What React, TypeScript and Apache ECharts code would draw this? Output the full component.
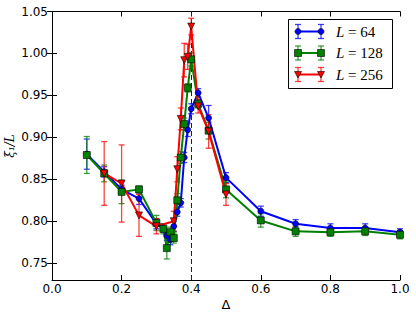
import React, { useEffect, useRef } from 'react';
import * as echarts from 'echarts';

const deltaAll = [0.1, 0.15, 0.2, 0.25, 0.3, 0.32, 0.33, 0.34, 0.35, 0.36, 0.37, 0.38, 0.39, 0.4, 0.42, 0.45, 0.5, 0.6, 0.7, 0.8, 0.9, 1.0];
const xi64 = [0.880, 0.859, 0.838, 0.827, 0.797, 0.792, 0.783, 0.778, 0.794, 0.811, 0.822, 0.876, 0.909, 0.934, 0.953, 0.923, 0.852, 0.812, 0.797, 0.792, 0.792, 0.787];
const err64 = [0.018, 0.006, 0.005, 0.007, 0.006, 0.005, 0.006, 0.006, 0.006, 0.005, 0.005, 0.006, 0.008, 0.006, 0.005, 0.015, 0.006, 0.006, 0.005, 0.005, 0.005, 0.004];
const xi128 = [0.879, 0.857, 0.835, 0.838, 0.798, 0.791, 0.768, 0.787, 0.780, 0.825, 0.876, 0.916, 0.959, 0.993, 0.940, 0.908, 0.838, 0.801, 0.788, 0.787, 0.788, 0.784];
const err128 = [0.022, 0.010, 0.014, 0.004, 0.009, 0.006, 0.013, 0.006, 0.006, 0.008, 0.007, 0.007, 0.005, 0.008, 0.005, 0.010, 0.010, 0.008, 0.006, 0.005, 0.005, 0.005];
const delta256 = [0.15, 0.2, 0.25, 0.3, 0.35, 0.36, 0.37, 0.38, 0.39, 0.4, 0.42, 0.45, 0.5];
const xi256 = [0.857, 0.845, 0.807, 0.794, 0.800, 0.862, 0.922, 0.992, 0.996, 1.032, 0.937, 0.907, 0.832];
const err256 = [0.038, 0.046, 0.025, 0.009, 0.012, 0.015, 0.013, 0.020, 0.015, 0.010, 0.008, 0.020, 0.013];

const yTicks = [0.75, 0.8, 0.85, 0.9, 0.95, 1.0, 1.05];
const labels = ['64', '128', '256'];
const colors = ['#0000ff', '#008000', '#ff0000'];
const symbols = ['circle', 'rect', 'triangle'];
const symbolRot = [0, 0, 180];
const symbolSizes = [6, 7, 7];

function errRender(color: string) {
  return (params: any, api: any) => {
    const x = api.value(0), y = api.value(1), e = api.value(2);
    const p1 = api.coord([x, y + e]);
    const p2 = api.coord([x, y - e]);
    const w = 3;
    const style = { stroke: color, lineWidth: 1.3, opacity: 0.75 };
    return {
      type: 'group',
      children: [
        { type: 'line', shape: { x1: p1[0], y1: p1[1], x2: p2[0], y2: p2[1] }, style },
        { type: 'line', shape: { x1: p1[0] - w, y1: p1[1], x2: p1[0] + w, y2: p1[1] }, style },
        { type: 'line', shape: { x1: p2[0] - w, y1: p2[1], x2: p2[0] + w, y2: p2[1] }, style },
      ],
    };
  };
}

export default function App() {
  const ref = useRef<HTMLDivElement>(null);
  useEffect(() => {
    const chart = echarts.init(ref.current!, null, { renderer: 'svg' });
    const sets = [
      { x: deltaAll, y: xi64, e: err64 },
      { x: deltaAll, y: xi128, e: err128 },
      { x: delta256, y: xi256, e: err256 },
    ];
    const series: any[] = [];
    sets.forEach((s, i) => {
      series.push({
        type: 'custom',
        xAxisIndex: 0,
        yAxisIndex: 0,
        renderItem: errRender(colors[i]),
        encode: { x: 0, y: 1 },
        data: s.x.map((d, k) => [d, s.y[k], s.e[k]]),
        silent: true,
        z: 2,
      });
      series.push({
        type: 'line',
        xAxisIndex: 0,
        yAxisIndex: 0,
        data: s.x.map((d, k) => [d, s.y[k]]),
        symbol: symbols[i],
        symbolRotate: symbolRot[i],
        symbolSize: symbolSizes[i],
        showAllSymbol: true,
        lineStyle: { color: colors[i], width: 2 },
        itemStyle: { color: colors[i], borderColor: '#000', borderWidth: 0.6 },
        z: 2,
        markLine: i === 0 ? {
          silent: true,
          symbol: 'none',
          label: { show: false },
          lineStyle: { color: '#222', type: [5, 3], width: 1 },
          data: [{ xAxis: 0.4 }],
          z: 1,
        } : undefined,
      });
    });

    const font = { fontFamily: 'DejaVu Sans', fontSize: 12, color: '#000' };
    const axisLine = { show: true, lineStyle: { color: '#000', width: 1 } };
    const legendChildren: any[] = [
      { type: 'rect', shape: { x: 288.5, y: 19.5, width: 104, height: 69 }, style: { fill: '#fff', stroke: '#000', lineWidth: 1 }, z: 10 },
    ];
    labels.forEach((lab, i) => {
      const cy = 31.5 + 21.5 * i;
      const x1 = 298, x2 = 321;
      const c = colors[i];
      legendChildren.push({ type: 'line', shape: { x1, y1: cy, x2, y2: cy }, style: { stroke: c, lineWidth: 2 }, z: 11 });
      [x1, x2].forEach((xx) => {
        const st = { stroke: c, lineWidth: 1.3, opacity: 0.75 };
        legendChildren.push({ type: 'line', shape: { x1: xx, y1: cy - 7, x2: xx, y2: cy + 7 }, style: st, z: 11 });
        legendChildren.push({ type: 'line', shape: { x1: xx - 3, y1: cy - 7, x2: xx + 3, y2: cy - 7 }, style: st, z: 11 });
        legendChildren.push({ type: 'line', shape: { x1: xx - 3, y1: cy + 7, x2: xx + 3, y2: cy + 7 }, style: st, z: 11 });
        const ms = { fill: c, stroke: '#000', lineWidth: 0.6 };
        if (i === 0) legendChildren.push({ type: 'circle', shape: { cx: xx, cy, r: 3 }, style: ms, z: 12 });
        else if (i === 1) legendChildren.push({ type: 'rect', shape: { x: xx - 3.5, y: cy - 3.5, width: 7, height: 7 }, style: ms, z: 12 });
        else legendChildren.push({ type: 'polygon', shape: { points: [[xx - 3.5, cy - 3], [xx + 3.5, cy - 3], [xx, cy + 3.5]] }, style: ms, z: 12 });
      });
      legendChildren.push({
        type: 'text', x: 336, y: cy, z: 12,
        style: {
          text: '{i|L} = ' + lab,
          fontFamily: 'Liberation Serif', fontSize: 15, fill: '#000',
          verticalAlign: 'middle', align: 'left',
          rich: { i: { fontStyle: 'italic', fontFamily: 'Liberation Serif', fontSize: 15 } },
        },
      });
    });

    const option: any = {
      animation: false,
      backgroundColor: '#fff',
      grid: { left: 52, top: 11.5, right: 16, bottom: 37, containLabel: false },
      xAxis: [
        {
          type: 'value', min: 0, max: 1, interval: 0.2, position: 'bottom',
          axisLine, splitLine: { show: false },
          axisTick: { inside: true, length: 5, lineStyle: { color: '#000' } },
          axisLabel: { ...font, margin: 3, formatter: (v: number) => v.toFixed(1) },
        },
        {
          type: 'value', min: 0, max: 1, interval: 0.2, position: 'top',
          axisLine, splitLine: { show: false },
          axisTick: { inside: true, length: 5, lineStyle: { color: '#000' } },
          axisLabel: { show: false },
        },
      ],
      yAxis: [
        {
          type: 'value', min: 0.73, max: 1.05, position: 'left',
          axisLine, splitLine: { show: false },
          axisTick: { inside: true, length: 5, lineStyle: { color: '#000' }, customValues: yTicks },
          axisLabel: { ...font, margin: 4, customValues: yTicks, formatter: (v: number) => v.toFixed(2) },
        },
        {
          type: 'value', min: 0.73, max: 1.05, position: 'right',
          axisLine, splitLine: { show: false },
          axisTick: { inside: true, length: 5, lineStyle: { color: '#000' }, customValues: yTicks },
          axisLabel: { show: false },
        },
      ],
      series,
      graphic: [
        ...legendChildren,
        {
          type: 'text', x: 10, y: 146, rotation: Math.PI / 2,
          style: { text: 'ξ₁/L', fontFamily: 'DejaVu Serif', fontStyle: 'italic', fontSize: 12, fill: '#000', align: 'center', verticalAlign: 'middle' },
        },
        {
          type: 'text', x: 226, y: 304,
          style: { text: 'Δ', fontFamily: 'DejaVu Sans', fontSize: 13, fill: '#000', align: 'center', verticalAlign: 'middle' },
        },
      ],
    };
    chart.setOption(option);
    return () => chart.dispose();
  }, []);
  return <div ref={ref} style={{ position: 'fixed', left: 0, top: 0, width: 416, height: 317 }} />;
}
